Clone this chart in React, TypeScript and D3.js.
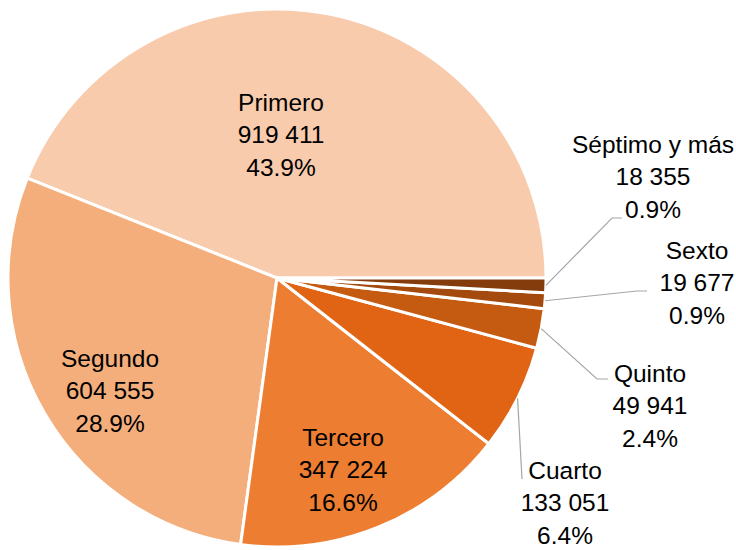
import React from "react";
import * as d3 from "d3";

const categories = ["Primero", "Segundo", "Tercero", "Cuarto", "Quinto", "Sexto", "Séptimo y más"];
const values = [919411, 604555, 347224, 133051, 49941, 19677, 18355];
const percentLabels = ["43.9%", "28.9%", "16.6%", "6.4%", "2.4%", "0.9%", "0.9%"];
const valueLabels = ["919 411", "604 555", "347 224", "133 051", "49 941", "19 677", "18 355"];
const colors = ["#F8CBAD", "#F4AE7C", "#ED7D31", "#E06414", "#C55A11", "#A54A0F", "#843C0C"];

// label layout: center x, first line center y, optional leader elbow/end
const layout: { x: number; y: number; elbow?: [number, number]; end?: [number, number] }[] = [
  { x: 281, y: 102 },
  { x: 110, y: 358 },
  { x: 343, y: 437 },
  { x: 565, y: 470, elbow: [522, 479], end: [522, 479] },
  { x: 650, y: 373, elbow: [597, 379], end: [608, 379] },
  { x: 697, y: 250, elbow: [637, 291], end: [647, 291] },
  { x: 653, y: 144, elbow: [612, 218], end: [622, 218] },
];

export default function App() {
  const W = 736, H = 550;
  const cx = 277, cy = 278, R = 269;
  const pie = d3.pie<number>().sort(null).value((d) => d)
    .startAngle(Math.PI / 2).endAngle(Math.PI / 2 - 2 * Math.PI);
  const arcs = pie(values);
  const arcGen = d3.arc<d3.PieArcDatum<number>>().innerRadius(0).outerRadius(R);
  const lh = 32.5;
  return (
    <svg width={W} height={H} style={{ position: "absolute", left: 0, top: 0, background: "#fff" }}
      fontFamily="'Liberation Sans', Arial, sans-serif" fontSize={24.5}>
      <g transform={`translate(${cx},${cy})`}>
        {arcs.map((a, i) => (
          <path key={i} d={arcGen(a) || ""} fill={colors[i]} stroke="#fff" strokeWidth={3} strokeLinejoin="round" />
        ))}
      </g>
      {arcs.map((a, i) => {
        const L = layout[i];
        if (!L.elbow) return null;
        const mid = (a.startAngle + a.endAngle) / 2;
        const sx = cx + R * Math.sin(mid);
        const sy = cy - R * Math.cos(mid);
        const pts = [[sx, sy], L.elbow, L.end!];
        return (
          <polyline key={"l" + i} points={pts.map((p) => p.join(",")).join(" ")}
            fill="none" stroke="#A6A6A6" strokeWidth={1.2} />
        );
      })}
      {categories.map((c, i) => {
        const L = layout[i];
        const lines = [c, valueLabels[i], percentLabels[i]];
        return (
          <g key={"t" + i}>
            {lines.map((t, j) => (
              <text key={j} x={L.x} y={L.y + j * lh} textAnchor="middle" dominantBaseline="central" fill="#000">
                {t}
              </text>
            ))}
          </g>
        );
      })}
    </svg>
  );
}
